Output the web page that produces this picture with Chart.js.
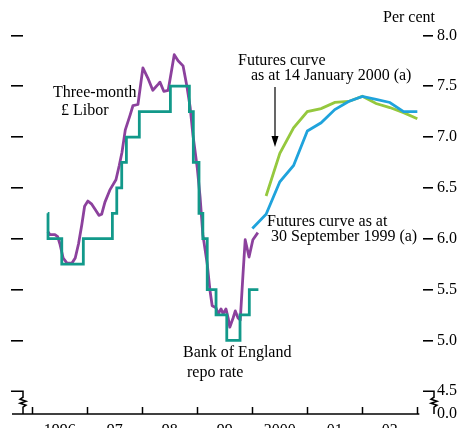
<!DOCTYPE html>
<html>
<head>
<meta charset="utf-8">
<script src="https://cdn.jsdelivr.net/npm/chart.js@4.4.1/dist/chart.umd.min.js"></script>
<style>
  html, body { margin: 0; padding: 0; background: #fff; overflow: hidden; }
  #wrap { width: 464px; height: 440px; }
</style>
</head>
<body>
<div id="wrap"><canvas id="chart" width="464" height="440"></canvas></div>
<script>
// Bank of England repo rate (date of change, new rate)
var repoYears = [1996.28, 1996.285, 1996.535, 1996.927, 1997.455, 1997.535, 1997.625, 1997.71, 1997.945,
  1998.51, 1998.855, 1998.927, 1999.03, 1999.10, 1999.18, 1999.34, 1999.535, 1999.776, 1999.945, 2000.11];
var repoRates = [6.25, 6.0, 5.75, 6.0, 6.25, 6.5, 6.75, 7.0, 7.25,
  7.5, 7.25, 6.75, 6.25, 6.0, 5.5, 5.25, 5.0, 5.25, 5.5, 5.5];

// Three-month sterling Libor
var liborYears = [1996.28, 1996.32, 1996.41, 1996.46, 1996.50, 1996.56, 1996.63, 1996.72, 1996.78, 1996.84,
  1996.90, 1996.95, 1997.01, 1997.08, 1997.14, 1997.21, 1997.26, 1997.32, 1997.41, 1997.52,
  1997.58, 1997.63, 1997.69, 1997.78, 1997.83, 1997.92, 1998.01, 1998.10, 1998.19, 1998.29,
  1998.32, 1998.39, 1998.47, 1998.58, 1998.65, 1998.74, 1998.81, 1998.87, 1998.92, 1999.00,
  1999.05, 1999.10, 1999.18, 1999.23, 1999.27, 1999.34, 1999.38, 1999.43, 1999.47, 1999.52,
  1999.56, 1999.59, 1999.65, 1999.69, 1999.74, 1999.78, 1999.83, 1999.87, 1999.94, 2000.01, 2000.10];
var liborRates = [6.07, 6.04, 6.04, 6.02, 5.95, 5.81, 5.76, 5.76, 5.81, 5.95,
  6.14, 6.32, 6.37, 6.34, 6.29, 6.23, 6.24, 6.36, 6.48, 6.58,
  6.72, 6.85, 7.07, 7.22, 7.31, 7.32, 7.68, 7.58, 7.46, 7.52,
  7.54, 7.45, 7.46, 7.81, 7.75, 7.70, 7.50, 7.29, 7.02, 6.69,
  6.41, 6.04, 5.75, 5.49, 5.34, 5.32, 5.26, 5.31, 5.26, 5.31,
  5.22, 5.13, 5.22, 5.29, 5.22, 5.20, 5.65, 5.99, 5.82, 5.99, 6.06];

// Futures curves
var futSepYears = [2000.0, 2000.25, 2000.5, 2000.75, 2001.0, 2001.25, 2001.5, 2001.75, 2002.0, 2002.25, 2002.5, 2002.75, 2003.0];
var futSepRates = [6.10, 6.24, 6.56, 6.72, 7.06, 7.14, 7.27, 7.35, 7.40, 7.37, 7.34, 7.25, 7.25];
var futJanYears = [2000.25, 2000.5, 2000.75, 2001.0, 2001.25, 2001.5, 2001.75, 2002.0, 2002.25, 2002.5, 2002.75, 2003.0];
var futJanRates = [6.42, 6.84, 7.09, 7.25, 7.28, 7.34, 7.35, 7.40, 7.33, 7.29, 7.24, 7.18];

var yearTicks = [1996, 1997, 1998, 1999, 2000, 2001, 2002, 2003];
var yearLabels = ['1996', '97', '98', '99', '2000', '01', '02'];
var rateTicks = [4.276, 4.5, 5.0, 5.5, 6.0, 6.5, 7.0, 7.5, 8.0];

var FONT = '"Liberation Serif", "Times New Roman", serif';

function toPoints(xs, ys) {
  var pts = [];
  for (var i = 0; i < xs.length; i++) {
    pts.push({ x: xs[i], y: ys[i] });
  }
  return pts;
}

function setRateTicks(scale) {
  scale.ticks = rateTicks.map(function(v) { return { value: v }; });
}

function tickColor(ctx) {
  return ctx.tick && ctx.tick.value < 4.6 ? 'rgba(0,0,0,0)' : '#000';
}

var extras = {
  id: 'extras',
  afterDraw: function(chart) {
    var ctx = chart.ctx;
    var area = chart.chartArea;
    var xs = chart.scales.x;
    var ys = chart.scales.y;
    var bottom = area.bottom;
    var y45 = ys.getPixelForValue(4.5);

    ctx.save();
    ctx.strokeStyle = '#000';
    ctx.lineWidth = 1.5;

    // bottom axis line
    ctx.beginPath();
    ctx.moveTo(12, bottom);
    ctx.lineTo(xs.getPixelForValue(2003) + 2, bottom);
    ctx.stroke();

    // year tick marks pointing up
    yearTicks.forEach(function(y) {
      var px = Math.round(xs.getPixelForValue(y)) + 0.5;
      ctx.beginPath();
      ctx.moveTo(px, bottom);
      ctx.lineTo(px, bottom - 7);
      ctx.stroke();
    });

    // axis breaks
    function brk(x0, x1) {
      ctx.beginPath();
      ctx.moveTo(x0, y45);
      ctx.lineTo(x1, y45);
      ctx.lineTo(x1, y45 + 6);
      ctx.lineTo(x1 - 3, y45 + 8);
      ctx.lineTo(x1 + 3, y45 + 10);
      ctx.lineTo(x1 - 3, y45 + 12);
      ctx.lineTo(x1 + 3, y45 + 14);
      ctx.lineTo(x1, y45 + 16);
      ctx.lineTo(x1, bottom);
      ctx.stroke();
    }
    brk(11, area.left);
    brk(area.right, area.right + 11);

    // arrow
    ctx.lineWidth = 1.2;
    ctx.beginPath();
    ctx.moveTo(275, 87);
    ctx.lineTo(275, 140);
    ctx.stroke();
    ctx.fillStyle = '#000';
    ctx.beginPath();
    ctx.moveTo(271.5, 136);
    ctx.lineTo(278.5, 136);
    ctx.lineTo(275, 147);
    ctx.closePath();
    ctx.fill();

    // text
    ctx.font = '16px ' + FONT;
    ctx.textAlign = 'left';
    ctx.textBaseline = 'middle';
    ctx.fillText('Per cent', 383, 18);
    ctx.fillText('Three-month', 53, 93);
    ctx.fillText('\u00a3 Libor', 61, 111);
    ctx.fillText('Futures curve', 238, 61);
    ctx.fillText('as at 14 January 2000 (a)', 251, 76);
    ctx.fillText('Futures curve as at', 267, 222);
    ctx.fillText('30 September 1999 (a)', 271, 237);
    ctx.fillText('Bank of England', 183, 353);
    ctx.fillText('repo rate', 187, 373);
    ctx.restore();
  }
};

new Chart(document.getElementById('chart'), {
  type: 'line',
  data: {
    datasets: [
      {
        label: 'Bank of England repo rate',
        data: toPoints(repoYears, repoRates),
        stepped: true,
        borderColor: '#12998a',
        borderWidth: 2.8,
        pointRadius: 0,
        fill: false
      },
      {
        label: 'Three-month £ Libor',
        data: toPoints(liborYears, liborRates),
        borderColor: '#8c419d',
        borderWidth: 2.8,
        pointRadius: 0,
        fill: false,
        borderJoinStyle: 'round'
      },
      {
        label: 'Futures curve as at 30 September 1999',
        data: toPoints(futSepYears, futSepRates),
        borderColor: '#1fa3dc',
        borderWidth: 2.8,
        pointRadius: 0,
        fill: false
      },
      {
        label: 'Futures curve as at 14 January 2000',
        data: toPoints(futJanYears, futJanRates),
        borderColor: '#95c83e',
        borderWidth: 2.8,
        pointRadius: 0,
        fill: false
      }
    ]
  },
  options: {
    responsive: false,
    animation: false,
    devicePixelRatio: 1,
    layout: { padding: { top: 10, left: 0, right: 0, bottom: 0 } },
    plugins: {
      legend: { display: false },
      tooltip: { enabled: false }
    },
    scales: {
      x: {
        type: 'linear',
        min: 1995.83,
        max: 2003.103,
        afterBuildTicks: function(scale) {
          scale.ticks = yearLabels.map(function(l, i) { return { value: yearTicks[i] + 0.5 }; });
        },
        afterFit: function(scale) { scale.height = 26; },
        grid: { display: false, drawTicks: false },
        border: { display: false },
        ticks: {
          autoSkip: false,
          maxRotation: 0,
          padding: 7,
          color: '#000',
          font: { family: FONT, size: 16 },
          callback: function(value) {
            return yearLabels[yearTicks.indexOf(Math.round(value - 0.5))];
          }
        }
      },
      y: {
        position: 'left',
        min: 4.276,
        max: 8.214,
        afterBuildTicks: setRateTicks,
        afterFit: function(scale) { scale.width = 23; },
        grid: { drawOnChartArea: false, drawTicks: true, tickLength: 12, color: tickColor, lineWidth: 1.6 },
        border: { display: false },
        ticks: { display: false }
      },
      y2: {
        position: 'right',
        min: 4.276,
        max: 8.214,
        afterBuildTicks: setRateTicks,
        afterFit: function(scale) { scale.width = 41; },
        grid: { drawOnChartArea: false, drawTicks: true, tickLength: 10, color: tickColor, lineWidth: 1.6 },
        border: { display: false },
        ticks: {
          padding: 4,
          color: '#000',
          font: { family: FONT, size: 16 },
          callback: function(value) {
            return value < 4.4 ? '0.0' : value.toFixed(1);
          }
        }
      }
    }
  },
  plugins: [extras]
});
</script>
</body>
</html>
